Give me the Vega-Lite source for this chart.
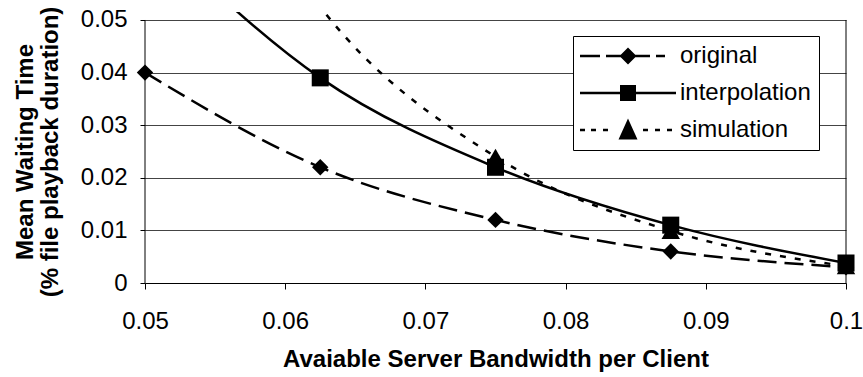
{
  "$schema": "https://vega.github.io/schema/vega-lite/v6.json",
  "width": 701,
  "height": 271,
  "autosize": {"type": "none"},
  "padding": {"left": 145, "top": 12, "right": 17, "bottom": 94},
  "background": "white",
  "config": {"view": {"stroke": null}, "font": "Liberation Sans"},
  "data": {
    "values": [
      {"x": 0.05, "y": 0.04, "series": "original"},
      {"x": 0.0625, "y": 0.022, "series": "original"},
      {"x": 0.075, "y": 0.012, "series": "original"},
      {"x": 0.0875, "y": 0.006, "series": "original"},
      {"x": 0.1, "y": 0.003, "series": "original"},
      {"x": 0.05, "y": 0.068, "series": "interpolation"},
      {"x": 0.0625, "y": 0.039, "series": "interpolation"},
      {"x": 0.075, "y": 0.022, "series": "interpolation"},
      {"x": 0.0875, "y": 0.011, "series": "interpolation"},
      {"x": 0.1, "y": 0.0038, "series": "interpolation"},
      {"x": 0.05, "y": 0.11, "series": "simulation"},
      {"x": 0.0625, "y": 0.0525, "series": "simulation"},
      {"x": 0.075, "y": 0.024, "series": "simulation"},
      {"x": 0.0875, "y": 0.0099, "series": "simulation"},
      {"x": 0.1, "y": 0.0032, "series": "simulation"}
    ]
  },
  "layer": [
    {
      "transform": [{"filter": "datum.series == 'original'"}],
      "mark": {"type": "line", "interpolate": "monotone", "clip": true, "color": "black", "strokeWidth": 2.5, "strokeDash": [19, 8]},
      "encoding": {
        "x": {
          "field": "x", "type": "quantitative",
          "scale": {"domain": [0.05, 0.1], "nice": false, "zero": false},
          "axis": {
            "values": [0.05, 0.06, 0.07, 0.08, 0.09, 0.1], "format": ".2~f",
            "grid": false, "domainColor": "black", "domainWidth": 1,
            "tickColor": "black", "tickSize": 6, "tickWidth": 1,
            "labelFontSize": 24, "labelPadding": 20, "labelColor": "black", "labelFlush": false, "labelOverlap": false,
            "title": "Avaiable Server Bandwidth per Client",
            "titleFontSize": 24, "titleFontWeight": "bold", "titleColor": "black",
            "titleBaseline": "alphabetic", "titleY": 83.4
          }
        },
        "y": {
          "field": "y", "type": "quantitative",
          "scale": {"domain": [0, 0.05152], "nice": false, "zero": false},
          "axis": {
            "values": [0, 0.01, 0.02, 0.03, 0.04, 0.05], "format": ".2~f",
            "domain": false, "grid": true, "gridColor": "#444444", "gridWidth": 1,
            "tickColor": "black", "tickSize": 5, "tickWidth": 1,
            "labelFontSize": 24, "labelPadding": 13, "labelColor": "black",
            "title": ["Mean Waiting Time", "(% file playback duration)"],
            "titleFontSize": 24, "titleFontWeight": "bold", "titleColor": "black",
            "titleAngle": 270, "titleAlign": "center", "titleBaseline": "alphabetic",
            "titleLineHeight": 25.5, "titleX": -113, "titleY": 139.5
          }
        }
      }
    },
    {
      "transform": [{"filter": "datum.series == 'interpolation'"}],
      "mark": {"type": "line", "interpolate": "monotone", "clip": true, "color": "black", "strokeWidth": 2.5},
      "encoding": {
        "x": {"field": "x", "type": "quantitative"},
        "y": {"field": "y", "type": "quantitative"}
      }
    },
    {
      "transform": [{"filter": "datum.series == 'simulation'"}],
      "mark": {"type": "line", "interpolate": "monotone", "clip": true, "color": "black", "strokeWidth": 2.5, "strokeDash": [6, 9]},
      "encoding": {
        "x": {"field": "x", "type": "quantitative"},
        "y": {"field": "y", "type": "quantitative"}
      }
    },
    {
      "data": {"values": [{"x": 0.05, "y": 0, "y2": 0.05}, {"x": 0.1, "y": 0, "y2": 0.05}]},
      "mark": {"type": "rule", "color": "black", "strokeWidth": 1},
      "encoding": {
        "x": {"field": "x", "type": "quantitative"},
        "y": {"field": "y", "type": "quantitative"},
        "y2": {"field": "y2"}
      }
    },
    {
      "transform": [{"filter": "datum.series == 'original'"}],
      "mark": {"type": "point", "filled": true, "color": "black", "opacity": 1, "strokeWidth": 0, "shape": "diamond", "size": 270},
      "encoding": {
        "x": {"field": "x", "type": "quantitative"},
        "y": {"field": "y", "type": "quantitative"}
      }
    },
    {
      "transform": [{"filter": "datum.series == 'interpolation' && datum.y <= 0.0515"}],
      "mark": {"type": "point", "filled": true, "color": "black", "opacity": 1, "strokeWidth": 0, "shape": "square", "size": 290},
      "encoding": {
        "x": {"field": "x", "type": "quantitative"},
        "y": {"field": "y", "type": "quantitative"}
      }
    },
    {
      "transform": [{"filter": "datum.series == 'simulation' && datum.y <= 0.0515"}],
      "mark": {"type": "point", "filled": true, "color": "black", "opacity": 1, "strokeWidth": 0, "shape": "triangle-up", "size": 340},
      "encoding": {
        "x": {"field": "x", "type": "quantitative"},
        "y": {"field": "y", "type": "quantitative"}
      }
    },
    {
      "mark": {"type": "point", "filled": true, "color": "black", "strokeWidth": 0, "opacity": 0, "clip": true},
      "encoding": {
        "x": {"field": "x", "type": "quantitative"},
        "y": {"field": "y", "type": "quantitative"},
        "shape": {
          "field": "series", "type": "nominal",
          "scale": {
            "domain": ["original", "interpolation", "simulation"],
            "range": [
              "M-4.8,-0.12L-2.8,-0.12L-2.8,0.12L-4.8,0.12ZM-2.2,-0.12L-0.7,-0.12L-0.7,0.12L-2.2,0.12ZM0.7,-0.12L2.2,-0.12L2.2,0.12L0.7,0.12ZM2.8,-0.12L3.7,-0.12L3.7,0.12L2.8,0.12ZM0,-0.85L0.85,0L0,0.85L-0.85,0Z",
              "M-4.8,-0.12L4.8,-0.12L4.8,0.12L-4.8,0.12ZM-0.8,-0.8L0.8,-0.8L0.8,0.8L-0.8,0.8Z",
              "M-4.8,-0.12L-4.3,-0.12L-4.3,0.12L-4.8,0.12ZM-3.7,-0.12L-3.2,-0.12L-3.2,0.12L-3.7,0.12ZM-2.5,-0.12L-2.0,-0.12L-2.0,0.12L-2.5,0.12ZM1.5,-0.12L2.0,-0.12L2.0,0.12L1.5,0.12ZM2.7,-0.12L3.2,-0.12L3.2,0.12L2.7,0.12ZM3.9,-0.12L4.4,-0.12L4.4,0.12L3.9,0.12ZM0,-1.15L0.95,0.95L-0.95,0.95Z"
            ]
          },
          "legend": {
            "orient": "none", "legendX": 428, "legendY": 24, "title": null,
            "padding": 8, "strokeColor": "black", "fillColor": "white",
            "symbolSize": 400, "symbolStrokeWidth": 0, "symbolOffset": 35,
            "symbolFillColor": "black", "symbolStrokeColor": "black", "symbolOpacity": 1,
            "labelOffset": 40, "labelFontSize": 24, "labelColor": "black", "labelFont": "Liberation Sans",
            "rowPadding": 13
          }
        }
      }
    }
  ]
}
